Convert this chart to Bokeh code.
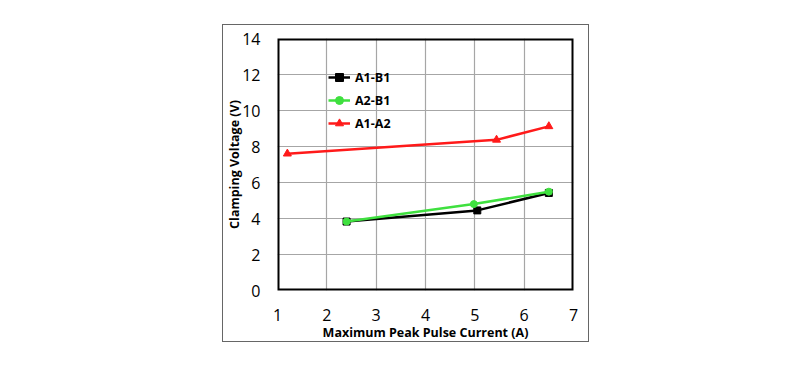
from bokeh.plotting import figure
from bokeh.embed import file_html
from bokeh.resources import INLINE
from bokeh.models import Legend, FixedTicker, Spacer
from bokeh.layouts import column, row

# Data
a1b1_x = [2.4, 5.05, 6.5]
a1b1_y = [3.83, 4.45, 5.42]
a2b1_x = [2.4, 4.98, 6.5]
a2b1_y = [3.83, 4.80, 5.49]
a1a2_x = [1.2, 5.44, 6.5]
a1a2_y = [7.6, 8.37, 9.12]
x_ticks = [1, 2, 3, 4, 5, 6, 7]
y_ticks = [0, 2, 4, 6, 8, 10, 12, 14]

p = figure(width=367, height=314, output_backend="svg", toolbar_location=None,
           x_range=(1, 7), y_range=(0, 14),
           min_border_left=40, min_border_right=17,
           min_border_top=13, min_border_bottom=51,
           frame_width=294, frame_height=250)
p.background_fill_color = "white"
p.border_fill_color = "white"
p.outline_line_color = None
p.styles = {"border": "1px solid #666666"}

p.xaxis.ticker = FixedTicker(ticks=x_ticks)
p.yaxis.ticker = FixedTicker(ticks=y_ticks)
for ax in (p.xaxis[0], p.yaxis[0]):
    ax.axis_line_color = None
    ax.major_tick_line_color = None
    ax.minor_tick_line_color = None
    ax.major_label_text_font = "Open Sans"
    ax.major_label_text_font_size = "16px"
    ax.major_label_text_color = "black"
    ax.axis_label_text_font = "Open Sans"
    ax.axis_label_text_font_style = "bold"
    ax.axis_label_text_font_size = "12.5px"
    ax.axis_label_text_color = "black"
p.xaxis.axis_label = "Maximum Peak Pulse Current (A)"
p.yaxis.axis_label = "Clamping Voltage (V)"
p.xaxis.major_label_standoff = 12
p.yaxis.major_label_standoff = 11
p.xaxis.axis_label_standoff = 0
p.yaxis.axis_label_standoff = -4

p.grid.grid_line_color = "#a6a6a6"
p.grid.grid_line_width = 1.2
p.grid.grid_line_alpha = 1

black = "#000000"
green = "#3fe03f"
red = "#ff1a1a"

# plot frame border (half of the line is clipped by the frame)
p.quad(left=[x_ticks[0]], right=[x_ticks[-1]], bottom=[y_ticks[0]], top=[y_ticks[-1]],
       fill_alpha=0, line_color="black", line_width=4)

l1 = p.line(a1b1_x, a1b1_y, line_color=black, line_width=2.5)
s1 = p.scatter(a1b1_x, a1b1_y, marker="square", size=7, fill_color=black, line_color=black)
l3 = p.line(a1a2_x, a1a2_y, line_color=red, line_width=2.5)
s3 = p.scatter(a1a2_x, a1a2_y, marker="triangle", size=8, fill_color=red, line_color=red)
l2 = p.line(a2b1_x, a2b1_y, line_color=green, line_width=2.5)
s2 = p.scatter(a2b1_x, a2b1_y, marker="circle", size=7, fill_color=green, line_color=green)

legend = Legend(items=[("A1-B1", [l1, s1]), ("A2-B1", [l2, s2]), ("A1-A2", [l3, s3])],
                location=(51, 157), padding=0, margin=0, spacing=3,
                glyph_width=22, glyph_height=20, label_standoff=5,
                label_text_font="Open Sans", label_text_font_style="bold",
                label_text_font_size="12.5px", label_text_color="black",
                background_fill_alpha=0, border_line_color=None)
p.add_layout(legend, "center")

layout = column(Spacer(height=24, width=10), row(Spacer(width=222, height=10), p))

open("out.html", "w").write(file_html(layout, INLINE))
